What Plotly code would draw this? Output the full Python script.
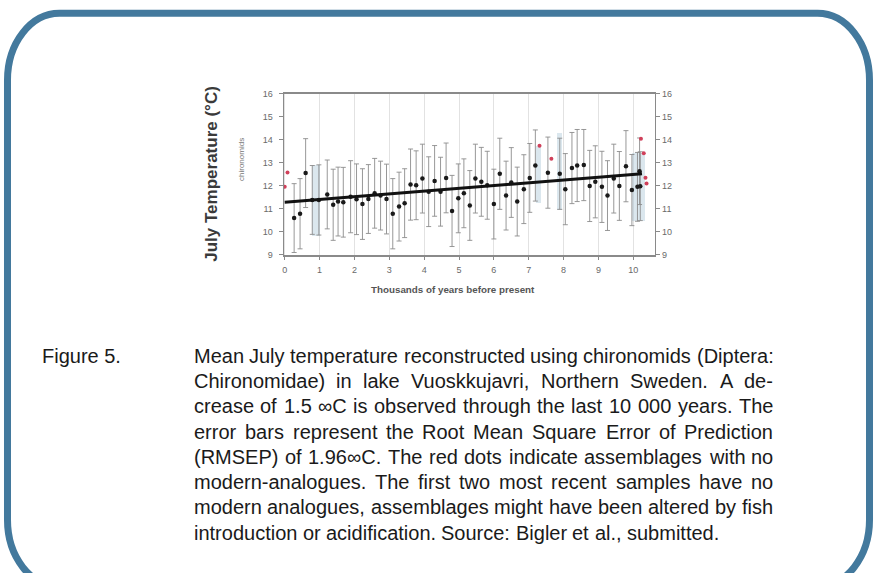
import plotly.graph_objects as go

W, H = 874, 573

# ---------------- data ----------------
ages = [0.27, 0.44, 0.60, 0.79, 0.98, 1.22, 1.39, 1.53, 1.68, 1.89, 2.06, 2.23, 2.40, 2.58,
        2.75, 2.92, 3.10, 3.28, 3.44, 3.61, 3.77, 3.95, 4.13, 4.30, 4.47, 4.63, 4.80, 4.98,
        5.14, 5.31, 5.47, 5.64, 5.81, 6.00, 6.17, 6.35, 6.50, 6.67, 6.86, 7.03, 7.19, 7.55,
        7.89, 8.05, 8.24, 8.39, 8.58, 8.75, 8.91, 9.10, 9.26, 9.44, 9.60, 9.79, 9.96, 10.12,
        10.20, 10.18]
temps = [10.59, 10.78, 12.55, 11.38, 11.38, 11.62, 11.17, 11.31, 11.28, 11.52, 11.41, 11.20,
         11.42, 11.67, 11.57, 11.42, 10.78, 11.09, 11.24, 12.05, 12.02, 12.31, 11.74, 12.21,
         11.74, 12.34, 10.90, 11.45, 11.67, 11.14, 12.31, 12.17, 12.02, 11.20, 12.52, 11.57,
         12.14, 11.31, 11.85, 12.34, 12.88, 12.57, 12.52, 11.85, 12.77, 12.88, 12.90, 11.99,
         12.17, 11.95, 11.57, 12.31, 11.99, 12.85, 11.81, 11.95, 11.98, 12.63]
errs = [1.50, 1.53, 1.50, 1.50, 1.53, 1.50, 1.55, 1.50, 1.52, 1.57, 1.54, 1.54, 1.50, 1.52,
        1.50, 1.52, 1.53, 1.50, 1.50, 1.55, 1.50, 1.50, 1.52, 1.54, 1.50, 1.52, 1.55, 1.50,
        1.50, 1.52, 1.50, 1.50, 1.48, 1.52, 1.55, 1.50, 1.52, 1.50, 1.50, 1.50, 1.55, 1.55,
        1.55, 1.55, 1.55, 1.57, 1.55, 1.55, 1.57, 1.55, 1.52, 1.50, 1.50, 1.55, 1.55, 1.50,
        1.50, 1.45]

no_analog_ages = [0.00, 0.08, 7.31, 7.65, 10.22, 10.30, 10.35, 10.38]
no_analog_temps = [11.95, 12.58, 13.74, 13.17, 14.05, 13.42, 12.35, 12.10]

trend_ages = [0.0, 10.25]
trend_temps = [11.28, 12.52]

band_ages = [0.885, 7.27, 7.88, 10.15]
band_widths = [0.24, 0.16, 0.14, 0.38]
band_lo = [9.80, 11.25, 10.95, 10.45]
band_hi = [12.90, 13.75, 14.30, 13.45]

x_ticks = list(range(0, 11))
y_ticks = list(range(9, 17))

caption_label = "Figure 5."
caption_lines = [
    "Mean July temperature reconstructed using chironomids (Diptera:",
    "Chironomidae) in lake Vuoskkujavri, Northern Sweden. A de-",
    "crease of 1.5 \u221eC is observed through the last 10 000 years. The",
    "error bars represent the Root Mean Square Error of Prediction",
    "(RMSEP) of 1.96\u221eC. The red dots indicate assemblages with no",
    "modern-analogues. The first two most recent samples have no",
    "modern analogues, assemblages might have been altered by fish",
    "introduction or acidification. Source: Bigler et al., submitted.",
]

# ---------------- geometry helpers ----------------
def px(x):
    return x / W

def py(y):
    return 1 - y / H

plot_l, plot_r, plot_t, plot_b = 283, 655, 90.5, 254
FONT = "Liberation Sans, Arial, sans-serif"

# Arial / Liberation Sans advance widths (1/1000 em) for justification
_w = {" ": 278, ".": 278, ",": 278, ":": 278, "-": 333, "(": 333, ")": 333, "\u221e": 713}
for c, v in zip("abcdefghijklmnopqrstuvwxyz",
                [556, 556, 500, 556, 556, 278, 556, 556, 222, 222, 500, 222, 833, 556, 556,
                 556, 556, 333, 500, 278, 556, 500, 722, 500, 500, 500]):
    _w[c] = v
for c, v in zip("ABCDEFGHIJKLMNOPQRSTUVWXYZ",
                [667, 667, 722, 722, 667, 611, 778, 722, 278, 500, 667, 556, 833, 722, 778,
                 667, 778, 722, 667, 611, 722, 667, 944, 667, 667, 611]):
    _w[c] = v
for c in "0123456789":
    _w[c] = 556

def text_w(s, size):
    return sum(_w.get(c, 556) for c in s) * size / 1000.0

fig = go.Figure()

# shaded bands
fig.add_trace(go.Bar(
    x=band_ages, y=[h - l for h, l in zip(band_hi, band_lo)], base=band_lo,
    width=band_widths, marker=dict(color="rgba(165,195,212,0.40)", line=dict(width=0)),
    hoverinfo="skip", showlegend=False))

# error bars + black points
fig.add_trace(go.Scatter(
    x=ages, y=temps, mode="markers",
    marker=dict(symbol="circle", size=4.5, color="#1a1a1a"),
    error_y=dict(type="data", array=errs, visible=True, color="#8c8c8c",
                 thickness=0.9, width=2.5),
    showlegend=False))

# trend line
fig.add_trace(go.Scatter(
    x=trend_ages, y=trend_temps, mode="lines",
    line=dict(color="#111111", width=3), showlegend=False))

# red no-analogue points
fig.add_trace(go.Scatter(
    x=no_analog_ages, y=no_analog_temps, mode="markers",
    marker=dict(symbol="circle", size=4, color="#d0405a"), showlegend=False))

# invisible trace for right axis
fig.add_trace(go.Scatter(x=[None], y=[None], yaxis="y2", showlegend=False))

tick_font = dict(family=FONT, size=9, color="#6a6a6a")
axis_line = "#8a8a8a"

fig.update_layout(
    width=W, height=H, autosize=False,
    margin=dict(l=0, r=0, t=0, b=0),
    paper_bgcolor="white", plot_bgcolor="white",
    bargap=0,
    xaxis=dict(domain=[px(plot_l), px(plot_r)], range=[-0.03, 10.63],
               tickvals=x_ticks, ticks="outside", ticklen=4, tickcolor=axis_line,
               tickfont=tick_font, ticklabelstandoff=2,
               showgrid=True, gridcolor="#e2e2e2", gridwidth=1,
               showline=True, linecolor=axis_line, linewidth=1.5, mirror=True,
               zeroline=False),
    yaxis=dict(domain=[py(plot_b), py(plot_t)], range=[9, 16],
               tickvals=y_ticks, ticks="outside", ticklen=4, tickcolor=axis_line,
               tickfont=tick_font, ticklabelstandoff=4, showgrid=False, zeroline=False,
               showline=True, linecolor=axis_line, linewidth=1),
    yaxis2=dict(domain=[py(plot_b), py(plot_t)], range=[9, 16], overlaying="y",
                side="right", anchor="x",
                tickvals=y_ticks, ticks="outside", ticklen=4, tickcolor=axis_line,
                tickfont=tick_font, showgrid=False, zeroline=False,
                showline=True, linecolor=axis_line, linewidth=1),
)

annotations = [
    dict(text="<b>July Temperature (\u00b0C)</b>", x=px(211), y=py(172), xref="paper", yref="paper",
         xanchor="center", yanchor="middle",
         textangle=-90, showarrow=False, font=dict(family=FONT, size=17, color="#3a3a3a")),
    dict(text="chironomids", x=px(241), y=py(157), xref="paper", yref="paper",
         xanchor="center", yanchor="middle",
         textangle=-90, showarrow=False, font=dict(family=FONT, size=8, color="#777777")),
    dict(text="<b>Thousands of years before present</b>", x=px(453), y=py(290), xref="paper", yref="paper",
         xanchor="center", yanchor="middle",
         showarrow=False, font=dict(family=FONT, size=9.8, color="#555555")),
    dict(text=caption_label, x=px(40), y=py(357), xref="paper", yref="paper",
         xanchor="left", yanchor="middle", showarrow=False, borderpad=0,
         font=dict(family=FONT, size=20, color="#1a1a1a")),
]

# justified caption, word by word
cap_size = 20
cap_left, cap_right = 192, 772
line_gap = 25.7
for i, t in enumerate(caption_lines):
    words = t.split(" ")
    yy = 357 + i * line_gap
    nat = [text_w(wd, cap_size) for wd in words]
    last = (i == len(caption_lines) - 1)
    if last or len(words) == 1:
        gap = text_w(" ", cap_size)
    else:
        gap = (cap_right - cap_left - sum(nat)) / (len(words) - 1)
    xx = cap_left
    for wd, wn in zip(words, nat):
        annotations.append(dict(text=wd, x=px(xx), y=py(yy), xref="paper", yref="paper",
                                xanchor="left", yanchor="middle", showarrow=False, borderpad=0,
                                font=dict(family=FONT, size=cap_size, color="#1a1a1a")))
        xx += wn + gap
fig.update_layout(annotations=annotations)

# rounded blue frame (bottom edge lies below the visible page)
L, T, R, B, rx, ry = 6.5, 8.5, 869.5, 592, 52, 68
kx, ky = 0.5523 * rx, 0.5523 * ry
pts = [
    f"M {px(L)},{py(T + ry)}",
    f"C {px(L)},{py(T + ry - ky)} {px(L + rx - kx)},{py(T)} {px(L + rx)},{py(T)}",
    f"L {px(R - rx)},{py(T)}",
    f"C {px(R - rx + kx)},{py(T)} {px(R)},{py(T + ry - ky)} {px(R)},{py(T + ry)}",
    f"L {px(R)},{py(B - ry)}",
    f"C {px(R)},{py(B - ry + ky)} {px(R - rx + kx)},{py(B)} {px(R - rx)},{py(B)}",
    f"L {px(L + rx)},{py(B)}",
    f"C {px(L + rx - kx)},{py(B)} {px(L)},{py(B - ry + ky)} {px(L)},{py(B - ry)}",
    "Z",
]
fig.add_shape(type="path", path=" ".join(pts), xref="paper", yref="paper",
              line=dict(color="#43799d", width=7), layer="above")

fig.write_html("out.html", config={"displayModeBar": False},
               post_script="document.body.style.margin='0';document.body.style.overflow='hidden';")
